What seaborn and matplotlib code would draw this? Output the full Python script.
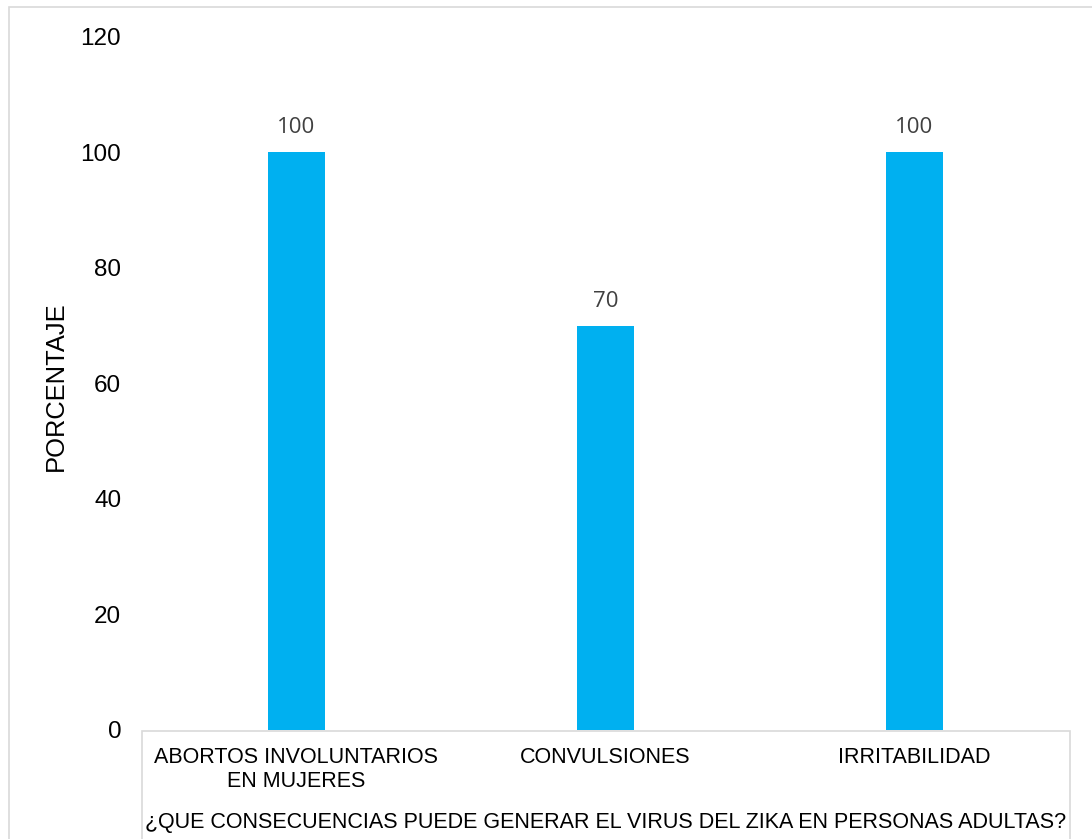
import matplotlib
matplotlib.use("Agg")
import matplotlib.pyplot as plt
import seaborn as sns
import pandas as pd
from matplotlib.patches import Rectangle

categories = ["ABORTOS INVOLUNTARIOS\nEN MUJERES", "CONVULSIONES", "IRRITABILIDAD"]
values = [100, 70, 100]
y_ticks = [0, 20, 40, 60, 80, 100, 120]
y_label = "PORCENTAJE"
x_label = "¿QUE CONSECUENCIAS PUEDE GENERAR EL VIRUS DEL ZIKA EN PERSONAS ADULTAS?"

sns.set_theme(style="white")
plt.rcParams['font.family'] = ['Liberation Sans', 'DejaVu Sans']

W, H = 1092, 839
fig = plt.figure(figsize=(W / 100, H / 100), dpi=100)
fig.patch.set_facecolor("white")

left, right, bottom, top = 142, 1069, 730, 36.7
ax = fig.add_axes([left / W, 1 - bottom / H, (right - left) / W, (bottom - top) / H])

df = pd.DataFrame({"cat": categories, "val": values})
sns.barplot(data=df, x="cat", y="val", color="#00B0F0", saturation=1, width=0.184,
            linewidth=0, ax=ax)

ax.set_ylim(0, 120)
ax.set_xlim(-0.5, 2.5)
ax.set_yticks(y_ticks)
ax.set_yticklabels([str(t) for t in y_ticks], fontsize=17.5, color="black")
ax.tick_params(axis="y", length=0, pad=15)
ax.tick_params(axis="x", length=0, pad=12)
for lbl in ax.get_xticklabels():
    lbl.set_fontsize(15.5)
    lbl.set_color("black")
    lbl.set_linespacing(1.18)
for s in ax.spines.values():
    s.set_visible(False)
ax.set_xlabel("")
ax.set_ylabel("")
ax.grid(False)

for c in ax.containers:
    ax.bar_label(c, labels=[str(v) for v in values], padding=10, fontsize=16,
                 color="#404040", family=["Open Sans", "DejaVu Sans"])

fig.text(56 / W, 1 - 386 / H, y_label, rotation=90, ha="center", va="center",
         fontsize=18.4, color="black")
fig.text(606 / W, 1 - 828 / H, x_label, ha="center", va="baseline",
         fontsize=15.5, color="black")

# category box
fig.patches.append(Rectangle((141.5 / W, 1 - 850 / H), (1069.5 - 141.5) / W, (850 - 731) / H,
                             transform=fig.transFigure, fill=False, edgecolor="#d9d9d9", lw=1.2))
# chart area border
fig.patches.append(Rectangle((9 / W, 1 - 860 / H), (1110 - 9) / W, (860 - 7) / H,
                             transform=fig.transFigure, fill=False, edgecolor="#d9d9d9", lw=1.2))

fig.savefig("out.png", dpi=100, facecolor="white")
